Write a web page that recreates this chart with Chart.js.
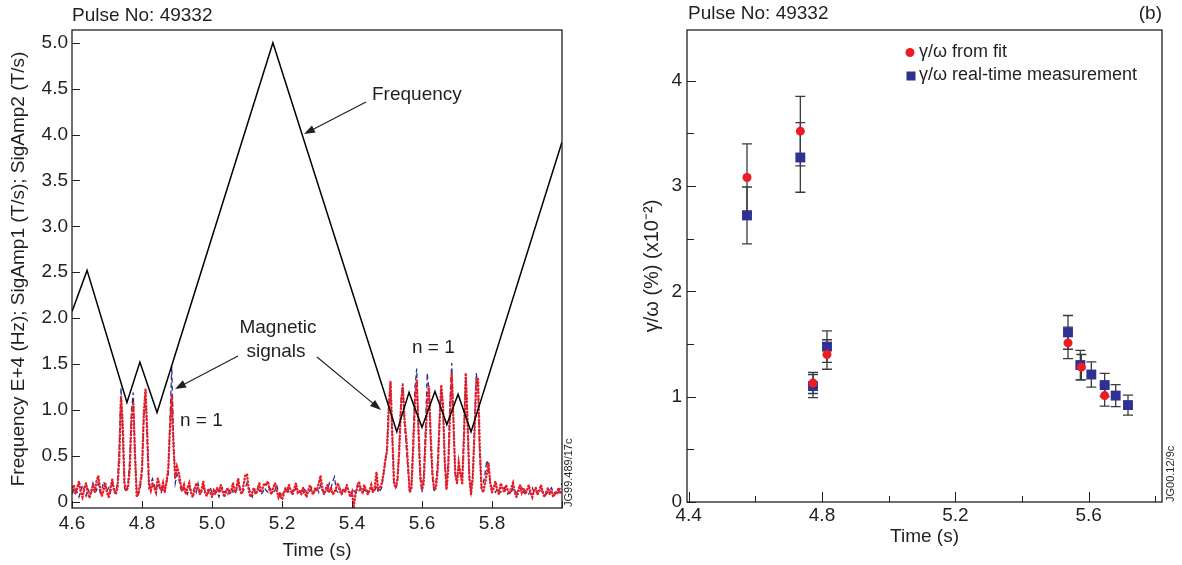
<!DOCTYPE html>
<html lang="en">
<head>
<meta charset="UTF-8">
<title>Pulse No: 49332</title>
<script src="https://cdn.jsdelivr.net/npm/chart.js"></script>
<style>
  body { margin: 0; background: #fff; }
  #wrap { position: relative; width: 1182px; height: 565px; }
  canvas { position: absolute; top: 0; }
  #freqChart { left: 0; }
  #gammaChart { left: 600px; }
</style>
</head>
<body>
<div id="wrap">
  <canvas id="freqChart" width="600" height="565"></canvas>
  <canvas id="gammaChart" width="582" height="565"></canvas>
</div>
<script>
// ---- panel (a): frequency + magnetic signals ----
const freqTime  = [4.6, 4.643, 4.757, 4.794, 4.843, 5.174, 5.528, 5.563, 5.6, 5.637, 5.671, 5.703, 5.74, 6.0];
const freqValue = [2.07, 2.52, 1.08, 1.52, 0.97, 5.0, 0.76, 1.19, 0.81, 1.20, 0.84, 1.17, 0.76, 3.92];

// magnetic signals sampled every 5 ms from 4.600 s
const sigStart = 4.6;
const sigStep = 0.005;
const sigAmp1 = [ // red dotted
  0.12, 0.18, 0.08, 0.15, 0.22, 0.1, 0.05, 0.14, 0.2, 0.09,
  0.04, 0.12, 0.18, 0.1, 0.22, 0.28, 0.15, 0.06, 0.12, 0.2,
  0.1, 0.05, 0.15, 0.24, 0.12, 0.08, 0.15, 0.45, 1.15, 0.85,
  0.2, 0.12, 0.15, 0.35, 0.9, 1.08, 0.5, 0.05, 0.1, 0.2,
  0.35, 0.95, 1.22, 0.75, 0.18, 0.12, 0.2, 0.15, 0.1, 0.25,
  0.18, 0.12, 0.2, 0.1, 0.22, 0.35, 0.8, 1.15, 0.6, 0.25,
  0.38, 0.32, 0.2, 0.12, 0.18, 0.08, 0.15, 0.2, 0.1, 0.05,
  0.12, 0.2, 0.15, 0.08, 0.12, 0.22, 0.1, 0.06, 0.14, 0.1,
  0.05, 0.12, 0.08, 0.15, 0.1, 0.18, 0.12, 0.05, 0.1, 0.15,
  0.08, 0.12, 0.2, 0.1, 0.15, 0.25, 0.12, 0.08, 0.18, 0.28,
  0.3, 0.12, 0.05, 0.1, 0.15, 0.08, 0.12, 0.2, 0.1, 0.15,
  0.2, 0.18, 0.22, 0.12, 0.08, 0.15, 0.2, 0.12, 0.05, 0.1,
  0.02, 0.08, 0.15, 0.1, 0.18, 0.12, 0.08, 0.14, 0.2, 0.1,
  0.12, 0.08, 0.15, 0.1, 0.05, 0.12, 0.18, 0.1, 0.08, 0.15,
  0.12, 0.2, 0.28, 0.15, 0.08, 0.12, 0.18, 0.1, 0.15, 0.08,
  0.1, 0.15, 0.2, 0.12, 0.08, 0.14, 0.1, 0.18, 0.12, 0.05,
  0.1, -0.05, 0.08, 0.15, 0.22, 0.12, 0.1, 0.18, 0.12, 0.08,
  0.12, 0.18, 0.1, 0.15, 0.32, 0.12, 0.15, 0.2, 0.3, 0.45,
  0.55, 1.0, 1.31, 0.75, 0.2, 0.15, 0.25, 0.55, 1.05, 1.27,
  0.9, 0.7, 0.4, 0.1, 0.15, 0.6, 1.1, 1.33, 0.8, 0.3,
  0.13, 0.2, 0.65, 1.1, 1.26, 0.7, 0.3, 0.13, 0.15, 0.35,
  0.85, 1.27, 1.05, 0.45, 0.13, 0.35, 0.95, 1.4, 0.85, 0.3,
  0.2, 0.42, 0.3, 0.2, 0.7, 1.4, 0.9, 0.3, 0.08, 0.25,
  0.75, 1.3, 1.35, 0.6, 0.15, 0.1, 0.2, 0.3, 0.42, 0.2,
  0.1, 0.15, 0.22, 0.12, 0.08, 0.2, 0.15, 0.1, 0.18, 0.12,
  0.08, 0.15, 0.2, 0.1, 0.05, 0.12, 0.18, 0.1, 0.15, 0.08,
  0.12, 0.18, 0.1, 0.05, 0.12, 0.15, 0.08, 0.12, 0.18, 0.1,
  0.05, 0.1, 0.15, 0.08, 0.12, 0.05, 0.1, 0.08, 0.15, 0.1, 0.12
];
const sigAmp2 = [ // blue dashed
  0.08, 0.12, 0.15, 0.1, 0.05, 0.12, 0.18, 0.1, 0.06, 0.14,
  0.1, 0.08, 0.2, 0.15, 0.12, 0.2, 0.1, 0.12, 0.22, 0.18,
  0.12, 0.15, 0.1, 0.2, 0.15, 0.1, 0.2, 0.6, 1.24, 0.7,
  0.15, 0.1, 0.2, 0.45, 1.0, 1.19, 0.55, 0.1, 0.08, 0.15,
  0.3, 0.9, 1.2, 0.65, 0.15, 0.2, 0.25, 0.18, 0.12, 0.2,
  0.15, 0.1, 0.15, 0.12, 0.2, 0.3, 0.9, 1.47, 0.7, 0.2,
  0.3, 0.25, 0.15, 0.1, 0.15, 0.12, 0.08, 0.15, 0.12, 0.1,
  0.15, 0.1, 0.2, 0.12, 0.1, 0.15, 0.12, 0.08, 0.1, 0.15,
  0.1, 0.08, 0.12, 0.1, 0.05, 0.12, 0.15, 0.1, 0.12, 0.08,
  0.12, 0.15, 0.1, 0.08, 0.12, 0.18, 0.15, 0.1, 0.12, 0.15,
  0.2, 0.15, 0.1, 0.05, 0.12, 0.1, 0.15, 0.12, 0.08, 0.1,
  0.15, 0.12, 0.1, 0.15, 0.12, 0.1, 0.12, 0.18, 0.1, 0.05,
  0.08, 0.1, 0.12, 0.15, 0.1, 0.08, 0.12, 0.1, 0.15, 0.12,
  0.1, 0.12, 0.08, 0.15, 0.1, 0.08, 0.12, 0.15, 0.1, 0.12,
  0.15, 0.1, 0.18, 0.12, 0.1, 0.15, 0.12, 0.2, 0.15, 0.22,
  0.27, 0.12, 0.1, 0.15, 0.08, 0.12, 0.1, 0.15, 0.12, 0.1,
  0.08, 0.12, 0.1, 0.18, 0.12, 0.15, 0.1, 0.12, 0.15, 0.1,
  0.12, 0.15, 0.1, 0.12, 0.18, 0.1, 0.12, 0.15, 0.3, 0.42,
  0.6, 1.05, 1.31, 0.7, 0.2, 0.15, 0.2, 0.6, 1.1, 1.29,
  0.85, 0.6, 0.35, 0.1, 0.2, 0.7, 1.25, 1.45, 0.7, 0.25,
  0.1, 0.3, 0.8, 1.4, 1.2, 0.6, 0.25, 0.1, 0.2, 0.45,
  0.9, 1.25, 1.0, 0.4, 0.15, 0.45, 1.1, 1.51, 0.9, 0.3,
  0.25, 0.38, 0.3, 0.25, 0.8, 1.36, 0.85, 0.25, 0.1, 0.3,
  0.8, 1.4, 1.25, 0.5, 0.15, 0.2, 0.3, 0.45, 0.38, 0.2,
  0.15, 0.12, 0.1, 0.15, 0.12, 0.1, 0.12, 0.15, 0.1, 0.08,
  0.12, 0.1, 0.15, 0.12, 0.1, 0.08, 0.12, 0.15, 0.1, 0.12,
  0.1, 0.08, 0.12, 0.15, 0.1, 0.12, 0.08, 0.1, 0.12, 0.1,
  0.12, 0.08, 0.1, 0.12, 0.15, 0.1, 0.08, 0.12, 0.1, 0.15, 0.2
];

// ---- panel (b): growth rate ----
const fitTime  = [4.575, 4.735, 4.773, 4.815, 5.538, 5.578, 5.648];
const fitValue = [3.08, 3.52, 1.13, 1.40, 1.51, 1.28, 1.01];
const fitError = [0.32, 0.33, 0.10, 0.14, 0.15, 0.12, 0.10];
const rtTime   = [4.575, 4.735, 4.773, 4.815, 5.538, 5.575, 5.608, 5.648, 5.681, 5.718];
const rtValue  = [2.72, 3.27, 1.10, 1.475, 1.61, 1.30, 1.21, 1.11, 1.01, 0.92];
const rtError  = [0.27, 0.33, 0.11, 0.15, 0.16, 0.14, 0.12, 0.11, 0.105, 0.095];

const INK = '#231F20';
const RED = '#ED1C24';
const BLUE = '#2E3192';
const FONT = '"Liberation Sans", Arial, Helvetica, sans-serif';

Chart.defaults.font.family = FONT;
Chart.defaults.font.size = 19;
Chart.defaults.color = INK;

function toPoints(xs, ys) {
  return ys.map((v, i) => ({ x: xs[i], y: v }));
}
function sigPoints(arr) {
  return arr.map((v, i) => ({ x: sigStart + i * sigStep, y: v }));
}

function arrow(ctx, x1, y1, x2, y2) {
  const a = Math.atan2(y2 - y1, x2 - x1);
  const hl = 11, hw = 4;
  ctx.beginPath();
  ctx.moveTo(x1, y1);
  ctx.lineTo(x2 - hl * Math.cos(a) * 0.8, y2 - hl * Math.sin(a) * 0.8);
  ctx.stroke();
  ctx.beginPath();
  ctx.moveTo(x2, y2);
  ctx.lineTo(x2 - hl * Math.cos(a) + hw * Math.sin(a), y2 - hl * Math.sin(a) - hw * Math.cos(a));
  ctx.lineTo(x2 - hl * Math.cos(a) - hw * Math.sin(a), y2 - hl * Math.sin(a) + hw * Math.cos(a));
  ctx.closePath();
  ctx.fill();
}

// box + inward tick marks
function frameAndTicks(chart, xLen, yLen) {
  const { ctx, chartArea: a } = chart;
  const xs = chart.scales.x, ys = chart.scales.y;
  ctx.save();
  ctx.strokeStyle = INK;
  ctx.lineWidth = 1;
  ctx.beginPath();
  xs.ticks.forEach((t, i) => {
    const px = Math.round(xs.getPixelForValue(t.value)) + 0.5;
    ctx.moveTo(px, a.bottom);
    ctx.lineTo(px, a.bottom - xLen(i));
  });
  ys.ticks.forEach((t, i) => {
    const py = Math.round(ys.getPixelForValue(t.value)) + 0.5;
    ctx.moveTo(a.left, py);
    ctx.lineTo(a.left + yLen(i, t.value), py);
  });
  ctx.stroke();
  ctx.lineWidth = 1.3;
  ctx.strokeRect(a.left, a.top, a.right - a.left, a.bottom - a.top);
  ctx.restore();
}

function sideText(ctx, text, x, y) {
  ctx.save();
  ctx.translate(x, y);
  ctx.rotate(-Math.PI / 2);
  ctx.font = '11px ' + FONT;
  ctx.textAlign = 'left';
  ctx.textBaseline = 'middle';
  ctx.fillStyle = INK;
  ctx.fillText(text, 0, 0);
  ctx.restore();
}

const freqDecor = {
  id: 'freqDecor',
  afterDraw(chart) {
    frameAndTicks(chart, () => 7, () => 8);
    const ctx = chart.ctx;
    ctx.save();
    ctx.fillStyle = INK;
    ctx.strokeStyle = INK;
    ctx.lineWidth = 1.2;
    ctx.font = '19px ' + FONT;
    ctx.textBaseline = 'middle';
    ctx.textAlign = 'left';
    ctx.fillText('Pulse No: 49332', 72, 16);
    ctx.fillText('Frequency', 372, 95);
    ctx.fillText('n = 1', 180, 421);
    ctx.fillText('n = 1', 412, 348);
    ctx.textAlign = 'center';
    ctx.fillText('Magnetic', 278, 328);
    ctx.fillText('signals', 276, 352);
    arrow(ctx, 366, 102, 304, 134);
    arrow(ctx, 238, 356, 175, 389);
    arrow(ctx, 317, 357, 381, 410);
    ctx.restore();
    sideText(ctx, 'JG99.489/17c', 569, 507);
  }
};

new Chart(document.getElementById('freqChart'), {
  type: 'line',
  data: {
    datasets: [
      {
        label: 'Frequency',
        data: toPoints(freqTime, freqValue),
        borderColor: '#000',
        borderWidth: 1.5,
        pointRadius: 0,
        tension: 0,
        order: 0
      },
      {
        label: 'SigAmp1',
        data: sigPoints(sigAmp1),
        borderColor: RED,
        borderWidth: 2.4,
        borderDash: [0.6, 2.8],
        borderCapStyle: 'round',
        pointRadius: 0,
        tension: 0,
        order: 1
      },
      {
        label: 'SigAmp2',
        data: sigPoints(sigAmp2),
        borderColor: BLUE,
        borderWidth: 1.3,
        borderDash: [5, 3],
        pointRadius: 0,
        tension: 0,
        order: 2
      }
    ]
  },
  options: {
    responsive: false,
    animation: false,
    events: [],
    layout: { padding: { left: 0, right: 38, top: 30, bottom: 0 } },
    plugins: { legend: { display: false }, tooltip: { enabled: false } },
    scales: {
      x: {
        type: 'linear',
        min: 4.6,
        max: 6.0,
        grid: { display: false, drawTicks: false },
        border: { display: false },
        ticks: {
          stepSize: 0.2,
          includeBounds: false,
          autoSkip: false,
          maxRotation: 0,
          padding: 4,
          callback: v => (v > 5.9 ? '' : v.toFixed(1))
        },
        title: { display: true, text: 'Time (s)', padding: { top: 0, bottom: 3 } },
        afterFit: s => { s.height = 57; }
      },
      y: {
        type: 'linear',
        min: -0.07,
        max: 5.14,
        grid: { display: false, drawTicks: false },
        border: { display: false },
        ticks: {
          stepSize: 0.5,
          includeBounds: false,
          autoSkip: false,
          padding: 4,
          callback: v => (v === 0 ? '0' : v.toFixed(1))
        },
        title: {
          display: true,
          text: 'Frequency E+4 (Hz); SigAmp1 (T/s); SigAmp2 (T/s)',
          padding: { top: 7, bottom: 0 }
        },
        afterFit: s => { s.width = 72; }
      }
    }
  },
  plugins: [freqDecor]
});

const errorBars = {
  id: 'errorBars',
  beforeDatasetsDraw(chart) {
    const { ctx } = chart;
    const xs = chart.scales.x, ys = chart.scales.y;
    ctx.save();
    ctx.strokeStyle = '#3a3a3a';
    ctx.lineWidth = 1.3;
    chart.data.datasets.forEach(ds => {
      ds.data.forEach((p, i) => {
        const px = xs.getPixelForValue(p.x);
        const yt = ys.getPixelForValue(p.y + ds.errors[i]);
        const yb = ys.getPixelForValue(p.y - ds.errors[i]);
        ctx.beginPath();
        ctx.moveTo(px, yt); ctx.lineTo(px, yb);
        ctx.moveTo(px - 5, yt); ctx.lineTo(px + 5, yt);
        ctx.moveTo(px - 5, yb); ctx.lineTo(px + 5, yb);
        ctx.stroke();
      });
    });
    ctx.restore();
  }
};

const gammaDecor = {
  id: 'gammaDecor',
  afterDraw(chart) {
    frameAndTicks(chart, i => (i % 2 === 0 ? 10 : 6), (i, v) => (Number.isInteger(v) ? 9 : 7));
    const ctx = chart.ctx;
    ctx.save();
    ctx.fillStyle = INK;
    ctx.font = '19px ' + FONT;
    ctx.textBaseline = 'middle';
    ctx.textAlign = 'left';
    ctx.fillText('Pulse No: 49332', 88, 14);
    ctx.textAlign = 'right';
    ctx.fillText('(b)', 562, 14);
    // legend
    ctx.font = '18px ' + FONT;
    ctx.textAlign = 'left';
    ctx.fillStyle = RED;
    ctx.beginPath();
    ctx.arc(310, 52.5, 4.5, 0, Math.PI * 2);
    ctx.fill();
    ctx.fillStyle = BLUE;
    ctx.fillRect(306.5, 71.5, 9, 9);
    ctx.fillStyle = INK;
    ctx.fillText('γ/ω from fit', 319, 52);
    ctx.fillText('γ/ω real-time measurement', 319, 75);
    ctx.restore();
    sideText(ctx, 'JG00.12/9c', 571, 502);
  }
};

new Chart(document.getElementById('gammaChart'), {
  type: 'scatter',
  data: {
    datasets: [
      {
        label: 'γ/ω from fit',
        data: toPoints(fitTime, fitValue),
        errors: fitError,
        pointStyle: 'circle',
        pointRadius: 4.5,
        backgroundColor: RED,
        borderWidth: 0,
        order: 0
      },
      {
        label: 'γ/ω real-time measurement',
        data: toPoints(rtTime, rtValue),
        errors: rtError,
        pointStyle: 'rect',
        pointRadius: 7,
        backgroundColor: BLUE,
        borderWidth: 0,
        order: 1
      }
    ]
  },
  options: {
    responsive: false,
    animation: false,
    events: [],
    layout: { padding: { left: 0, right: 20, top: 30, bottom: 0 } },
    plugins: { legend: { display: false }, tooltip: { enabled: false } },
    scales: {
      x: {
        type: 'linear',
        min: 4.395,
        max: 5.82,
        grid: { display: false, drawTicks: false },
        border: { display: false },
        ticks: {
          stepSize: 0.2,
          includeBounds: false,
          autoSkip: false,
          maxRotation: 0,
          padding: 2,
          callback: (v, i) => (i % 2 === 0 && v < 5.7 ? v.toFixed(1) : '')
        },
        title: { display: true, text: 'Time (s)', padding: { top: 0, bottom: 17 } },
        afterFit: s => { s.height = 63; }
      },
      y: {
        type: 'linear',
        min: 0,
        max: 4.48,
        grid: { display: false, drawTicks: false },
        border: { display: false },
        ticks: {
          stepSize: 0.5,
          includeBounds: false,
          autoSkip: false,
          padding: 5,
          callback: v => (Number.isInteger(v) ? String(v) : '')
        },
        title: {
          display: true,
          text: 'γ/ω (%) (x10⁻²)',
          font: { size: 20 },
          padding: { top: 40, bottom: 0 }
        },
        afterFit: s => { s.width = 87; }
      }
    }
  },
  plugins: [errorBars, gammaDecor]
});
</script>
</body>
</html>
